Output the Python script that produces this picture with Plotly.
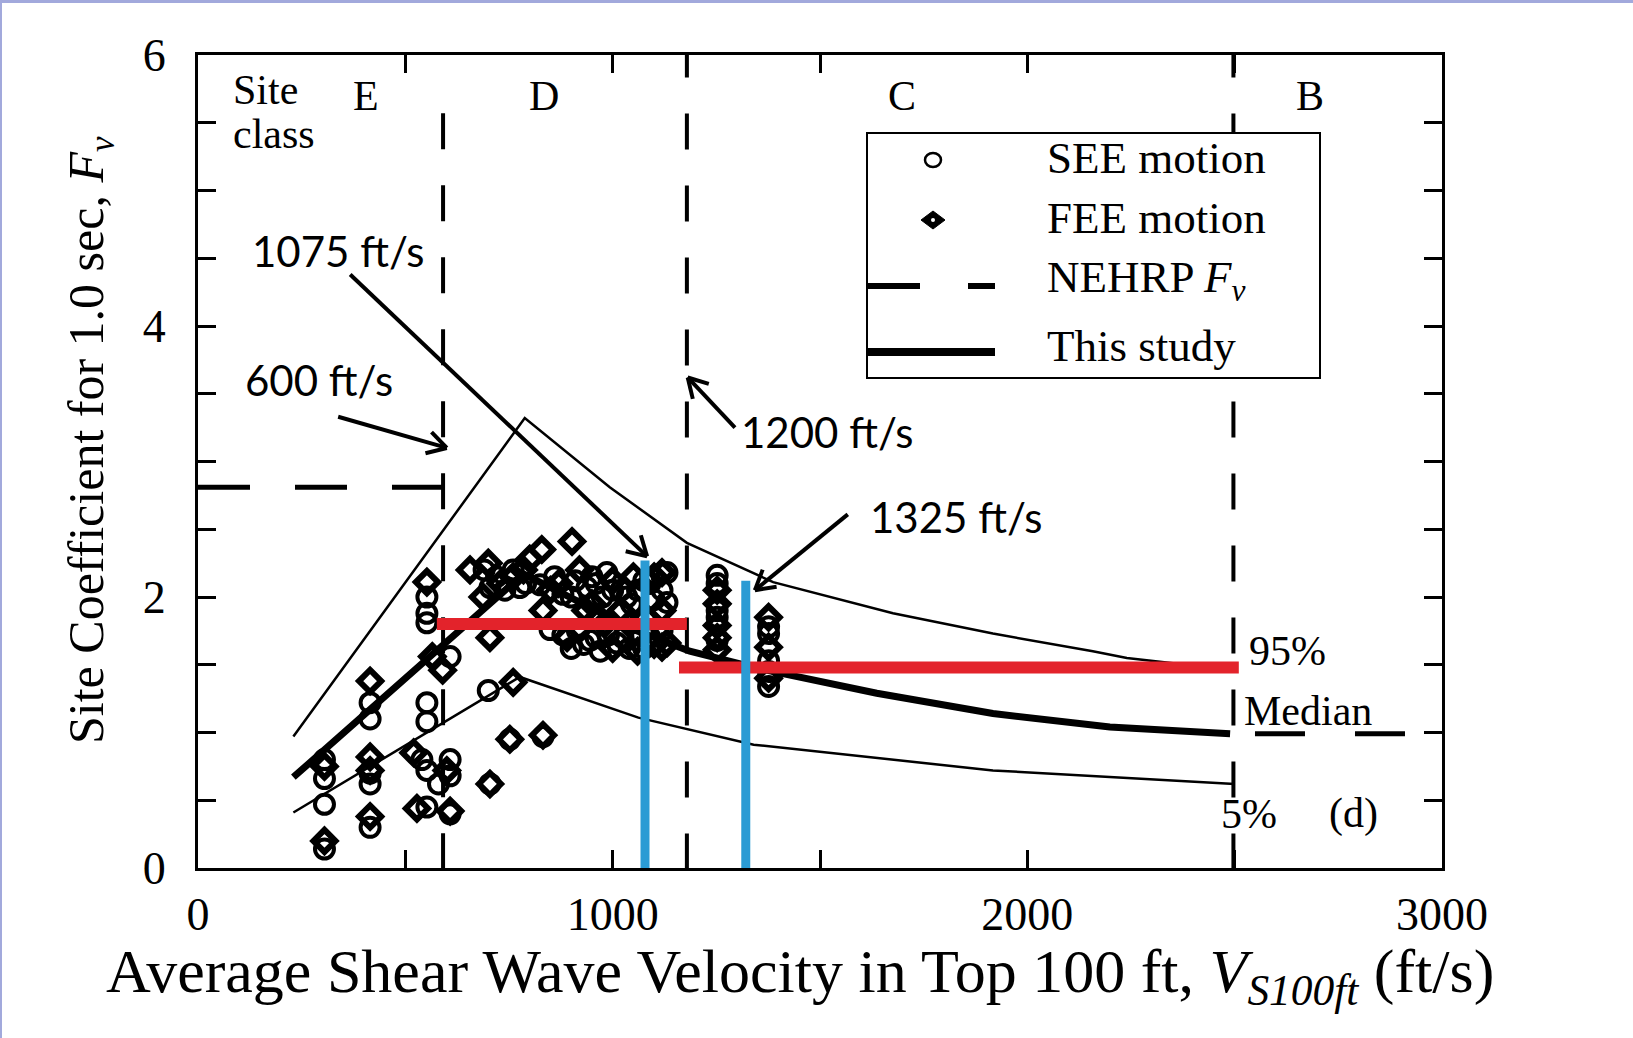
import math
import plotly.graph_objects as go

# ---------------- data ----------------
see_x = [305, 305, 305, 305, 415, 415, 415, 415, 415,
         552, 552, 552, 552, 552, 552, 552, 608, 608, 608, 608, 540, 580,
         700, 704, 752, 832,
         690, 704, 760, 776, 825, 849, 880, 900, 938, 960, 986, 1000, 1010, 1034,
         1040, 1060, 1119, 1119, 1131, 1131, 900, 930, 970, 1090, 1090, 950, 1060,
         720, 740, 790, 860, 880, 910, 960, 975, 1020, 1045, 915, 945, 990, 1025,
         1075, 1075, 1100,
         1252, 1252, 1252, 1252, 1252, 1376, 1376, 1376, 1376, 1376]
see_y = [0.80, 0.66, 0.47, 0.14, 1.22, 1.10, 0.70, 0.62, 0.30,
         2.00, 1.88, 1.81, 1.22, 1.08, 0.72, 0.45, 1.56, 0.80, 0.68, 0.40, 0.80, 0.62,
         1.31, 0.62, 0.95, 0.97,
         2.20, 2.07, 2.20, 2.07, 2.09, 1.76, 1.72, 2.00, 2.07, 1.70, 2.18, 2.05, 1.66, 2.00,
         1.62, 1.68, 2.05, 1.75, 1.96, 2.18, 1.62, 1.65, 1.60, 1.70, 2.10, 2.15, 2.05,
         2.15, 2.05, 2.10, 2.15, 2.02, 2.12, 2.10, 2.00, 2.05, 1.95, 1.75, 1.68, 1.72, 1.70,
         1.62, 2.12, 1.98,
         2.16, 2.10, 1.90, 1.85, 1.68, 1.78, 1.73, 1.53, 1.45, 1.34]

fee_x = [305, 305, 415, 415, 415, 415, 552, 565, 590, 520, 600, 528, 608,
         704, 760, 752, 832,
         656, 687, 704, 760, 800, 829, 832, 902, 870, 920, 950, 980, 1000, 1020,
         1050, 1080, 1100, 1119, 1119, 1119, 1131,
         700, 730, 785, 850, 890, 935, 965, 1000, 1040, 1060, 1100,
         1252, 1252, 1252, 1252, 1252, 1376, 1376, 1376]
fee_y = [0.75, 0.20, 1.38, 0.82, 0.72, 0.38, 2.11, 1.56, 1.46, 0.85, 0.72, 0.44, 0.42,
         0.62, 1.37, 0.95, 0.98,
         2.20, 2.00, 1.70, 2.15, 2.28, 2.35, 1.90, 2.41, 2.10, 2.20, 1.95, 1.80, 2.12, 1.90,
         2.15, 1.85, 1.65, 2.18, 1.90, 1.63, 1.66,
         2.25, 2.10, 2.20, 2.05, 1.70, 1.90, 1.85, 1.62, 1.80, 1.60, 2.15,
         2.05, 1.95, 1.79, 1.70, 1.61, 1.85, 1.63, 1.40]

p95_x = [230, 788, 993, 1179, 1387, 1676, 1917, 2158, 2240, 2500]
p95_y = [0.97, 3.32, 2.81, 2.40, 2.11, 1.88, 1.73, 1.60, 1.55, 1.46]
med_x = [230, 785, 1058, 1186, 1355, 1637, 1917, 2199, 2489]
med_y = [0.67, 2.17, 1.75, 1.60, 1.47, 1.29, 1.14, 1.04, 0.99]
p05_x = [230, 776, 1062, 1340, 1917, 2500]
p05_y = [0.41, 1.41, 1.11, 0.91, 0.72, 0.62]

nehrp_e_x = [0, 591]
nehrp_e_y = [2.81, 2.81]
nehrp_b_x = [2549, 2915]
nehrp_b_y = [0.99, 0.99]

class_bounds = [591, 1179, 2497]
class_tops = [5.57, 6.1, 6.1]

red1_x = [576, 1179]
red1_y = [1.80, 1.80]
red2_x = [1160, 2510]
red2_y = [1.48, 1.48]
blue1_x = [1078, 1078]
blue1_y = [0, 2.27]
blue2_x = [1321, 1321]
blue2_y = [0, 2.12]

# ---------------- geometry ----------------
W, H = 1633, 1038
L, R, T, B = 198, 1442, 55, 868
XMAX, YMAX = 3000.0, 6.0


def px(x):
    return (x - L) / (R - L)


def py(y):
    return (B - y) / (B - T)


def d2p(xv, yv):
    return (L + xv / XMAX * (R - L), B - yv / YMAX * (B - T))


def p2d(xp, yp):
    return ((xp - L) / (R - L) * XMAX, (B - yp) / (B - T) * YMAX)


SERIF = "Liberation Serif, Times New Roman, serif"
SANS = "Lato, Carlito, Open Sans, sans-serif"

fig = go.Figure()

for xb, top in zip(class_bounds, class_tops):
    fig.add_trace(go.Scatter(x=[xb, xb], y=[top, 0], mode="lines",
                             line=dict(color="black", width=4, dash="36px,36px"),
                             showlegend=False, hoverinfo="skip"))

fig.add_trace(go.Scatter(x=nehrp_e_x, y=nehrp_e_y, mode="lines",
                         line=dict(color="black", width=5, dash="52px,45px"),
                         showlegend=False, hoverinfo="skip"))
fig.add_trace(go.Scatter(x=nehrp_b_x, y=nehrp_b_y, mode="lines",
                         line=dict(color="black", width=5, dash="50px,50px"),
                         showlegend=False, hoverinfo="skip"))

fig.add_trace(go.Scatter(x=p95_x, y=p95_y, mode="lines",
                         line=dict(color="black", width=2.5), showlegend=False))
fig.add_trace(go.Scatter(x=p05_x, y=p05_y, mode="lines",
                         line=dict(color="black", width=2.5), showlegend=False))
fig.add_trace(go.Scatter(x=med_x, y=med_y, mode="lines",
                         line=dict(color="black", width=7), showlegend=False))

fig.add_trace(go.Scatter(x=see_x, y=see_y, mode="markers",
                         marker=dict(symbol="circle-open", size=19, color="black",
                                     line=dict(width=4, color="black")),
                         showlegend=False))
fig.add_trace(go.Scatter(x=fee_x, y=fee_y, mode="markers",
                         marker=dict(symbol="diamond-open", size=17, color="black",
                                     line=dict(width=6, color="black")),
                         showlegend=False))

for xs, ys in [(red1_x, red1_y), (red2_x, red2_y)]:
    fig.add_trace(go.Scatter(x=xs, y=ys, mode="lines",
                             line=dict(color="#e3232b", width=12), showlegend=False))
for xs, ys in [(blue1_x, blue1_y), (blue2_x, blue2_y)]:
    fig.add_trace(go.Scatter(x=xs, y=ys, mode="lines",
                             line=dict(color="#2a9bd4", width=9), showlegend=False))

ann = []
shapes = []

ann.append(dict(x=80, y=5.74, text="Site", xanchor="left", yanchor="middle",
                showarrow=False, font=dict(family=SERIF, size=42, color="black")))
ann.append(dict(x=80, y=5.42, text="class", xanchor="left", yanchor="middle",
                showarrow=False, font=dict(family=SERIF, size=42, color="black")))
for lbl, xv in [("E", 405), ("D", 834), ("C", 1698), ("B", 2682)]:
    ann.append(dict(x=xv, y=5.70, text=lbl, showarrow=False,
                    font=dict(family=SERIF, size=42, color="black")))

ann.append(dict(x=2530, y=1.60, text="95%", xanchor="left", showarrow=False,
                font=dict(family=SERIF, size=42, color="black")))
ann.append(dict(x=2518, y=1.16, text="Median", xanchor="left", showarrow=False,
                font=dict(family=SERIF, size=42, color="black")))
ann.append(dict(x=2462, y=0.40, text="5%", xanchor="left", showarrow=False,
                font=dict(family=SERIF, size=42, color="black")))
ann.append(dict(x=2722, y=0.40, text="(d)", xanchor="left", showarrow=False,
                font=dict(family=SERIF, size=42, color="black")))

# arrows with labels: (label, label centre, tail, head) in data units
arrows = [
    ("1075 ft/s", (340, 4.55), (367, 4.38), (1083, 2.30)),
    ("600 ft/s", (292, 3.60), (338, 3.33), (600, 3.10)),
    ("1200 ft/s", (1519, 3.22), (1295, 3.25), (1181, 3.62)),
    ("1325 ft/s", (1830, 2.59), (1567, 2.61), (1343, 2.05)),
]
for txt, tpos, tail, head in arrows:
    ann.append(dict(x=tpos[0], y=tpos[1], text=txt, showarrow=False,
                    font=dict(family=SANS, size=42, color="black")))
    tx, ty = d2p(*tail)
    hx, hy = d2p(*head)
    shapes.append(dict(type="line", xref="x", yref="y", x0=tail[0], y0=tail[1],
                       x1=head[0], y1=head[1], line=dict(color="black", width=4)))
    ang = math.atan2(ty - hy, tx - hx)
    for s in (-1, 1):
        a = ang + s * math.radians(30)
        wx, wy = p2d(hx + 22 * math.cos(a), hy + 22 * math.sin(a))
        shapes.append(dict(type="line", xref="x", yref="y", x0=head[0], y0=head[1],
                           x1=wx, y1=wy, line=dict(color="black", width=4)))

# legend (drawn manually)
shapes.append(dict(type="rect", xref="paper", yref="paper",
                   x0=px(867), x1=px(1320), y0=py(378), y1=py(133),
                   line=dict(color="black", width=2), fillcolor="white", layer="above"))
shapes.append(dict(type="circle", xref="paper", yref="paper",
                   x0=px(925), x1=px(941), y0=py(167), y1=py(153),
                   line=dict(color="black", width=2.5), layer="above"))
dpath = "M {a},{b} L {c},{d} L {e},{f} L {g},{h} Z".format(
    a=px(921), b=py(220), c=px(933), d=py(211), e=px(945), f=py(220), g=px(933), h=py(229))
shapes.append(dict(type="path", xref="paper", yref="paper", path=dpath,
                   fillcolor="black", line=dict(color="black", width=1), layer="above"))
shapes.append(dict(type="circle", xref="paper", yref="paper",
                   x0=px(931), x1=px(935), y0=py(222), y1=py(218),
                   fillcolor="white", line=dict(color="white", width=0), layer="above"))
for x0, x1 in [(868, 920), (968, 995)]:
    shapes.append(dict(type="line", xref="paper", yref="paper",
                       x0=px(x0), x1=px(x1), y0=py(286), y1=py(286),
                       line=dict(color="black", width=6), layer="above"))
shapes.append(dict(type="line", xref="paper", yref="paper",
                   x0=px(868), x1=px(995), y0=py(352), y1=py(352),
                   line=dict(color="black", width=8), layer="above"))

for txt, yy in [("SEE motion", 158), ("FEE motion", 218),
                ("NEHRP <i>F</i><sub><i>v</i></sub>", 280), ("This study", 346)]:
    ann.append(dict(x=px(1045), y=py(yy), xref="paper", yref="paper", text=txt,
                    xanchor="left", yanchor="middle", showarrow=False,
                    font=dict(family=SERIF, size=45, color="black")))

# axis titles
ann.append(dict(x=px(90), y=py(440), xref="paper", yref="paper", textangle=-90,
                xanchor="center", yanchor="middle",
                text="Site Coefficient for 1.0 sec, <i>F</i><sub><i>v</i></sub>",
                showarrow=False, font=dict(family=SERIF, size=50, color="black")))
ann.append(dict(x=px(800), y=py(975), xref="paper", yref="paper",
                xanchor="center", yanchor="middle",
                text="Average Shear Wave Velocity in Top 100 ft, <i>V</i><sub><i>S100ft</i></sub> (ft/s)",
                showarrow=False, font=dict(family=SERIF, size=62, color="black")))

# image border (lavender)
shapes.append(dict(type="rect", xref="paper", yref="paper",
                   x0=px(0), x1=px(W), y0=py(3), y1=py(0),
                   fillcolor="#a2a9dc", line=dict(width=0), layer="above"))
shapes.append(dict(type="rect", xref="paper", yref="paper",
                   x0=px(0), x1=px(2), y0=py(H), y1=py(0),
                   fillcolor="#a2a9dc", line=dict(width=0), layer="above"))

tick_common = dict(ticks="inside", ticklen=18, tickwidth=3, tickcolor="black",
                   showline=True, linewidth=3, linecolor="black", mirror="ticks",
                   showgrid=False, zeroline=False,
                   tickfont=dict(family=SERIF, size=46, color="black"))

fig.update_layout(
    width=W, height=H,
    margin=dict(l=L, r=W - R, t=T, b=H - B, pad=0),
    paper_bgcolor="white", plot_bgcolor="white",
    showlegend=False,
    annotations=ann, shapes=shapes,
    xaxis=dict(range=[0, XMAX], tickmode="linear", tick0=0, dtick=1000,
               minor=dict(tickmode="linear", tick0=0, dtick=500, ticks="inside",
                          ticklen=18, tickwidth=3, tickcolor="black"),
               ticklabelstandoff=4, **tick_common),
    yaxis=dict(range=[0, YMAX], tickmode="linear", tick0=0, dtick=2,
               minor=dict(tickmode="linear", tick0=0, dtick=0.5, ticks="inside",
                          ticklen=18, tickwidth=3, tickcolor="black"),
               ticklabelstandoff=20, **tick_common),
)

fig.write_html("out.html", config={"displayModeBar": False},
               post_script="document.body.style.margin='0px';")
